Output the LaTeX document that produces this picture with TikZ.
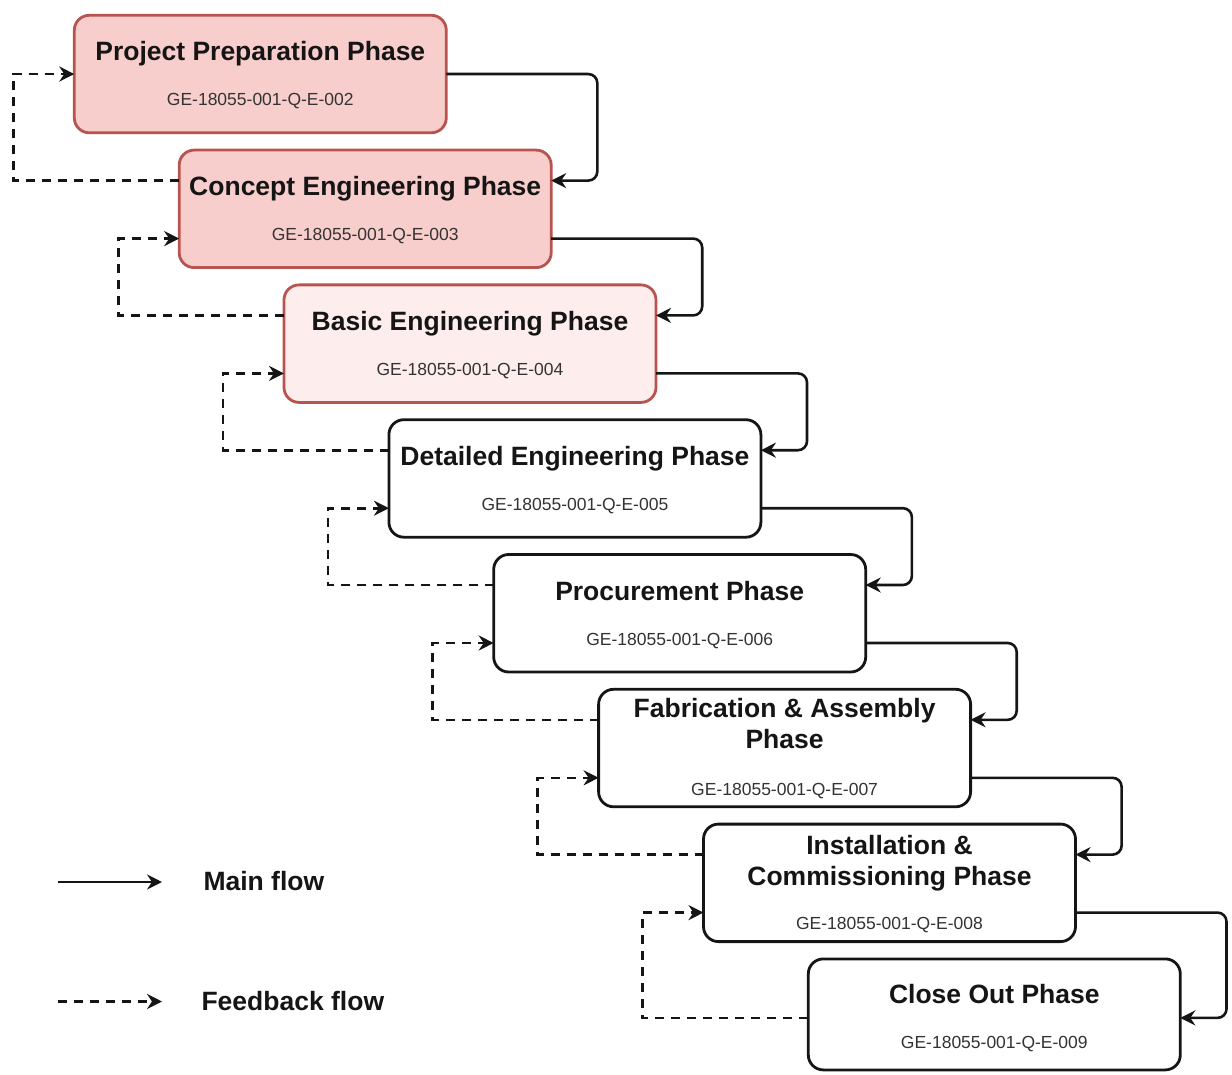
\documentclass[tikz,border=0pt]{standalone}
\usepackage{fontspec}
\setmainfont{Liberation Sans}
\usetikzlibrary{arrows.meta,calc}
\definecolor{phasered}{HTML}{F8CECC}
\definecolor{phasepale}{HTML}{FDEEED}
\definecolor{phaseedge}{HTML}{B85450}
\definecolor{codegray}{HTML}{333333}
\definecolor{inkblack}{HTML}{151515}
\begin{document}
\begin{tikzpicture}[x=1pt,y=-1pt,
  phase/.style={draw=inkblack, fill=white, line width=2.8pt, rounded corners=15pt,
    minimum width=372pt, minimum height=117.5pt, inner sep=0pt, outer sep=0pt, anchor=north west},
  redphase/.style={phase, draw=phaseedge, fill=phasered},
  palephase/.style={phase, draw=phaseedge, fill=phasepale},
  title/.style={font=\fontsize{26.5}{31}\selectfont\bfseries, text=inkblack, anchor=base, align=center},
  code/.style={font=\fontsize{17.5}{20}\selectfont, text=codegray, anchor=base},
  tip/.style={-{Stealth[length=15pt,width=15pt,inset=5pt]}},
  flow/.style={tip, draw=inkblack, line width=2.6pt, rounded corners=9pt},
  feedback/.style={tip, draw=inkblack, line width=2.6pt, dash pattern=on 9pt off 7pt},
  legendtext/.style={font=\fontsize{26.5}{31}\selectfont\bfseries, text=inkblack, anchor=base west}]
\useasboundingbox (0,0) rectangle (1232,1075);

% phase boxes, stepping down to the right
\node[redphase]  (p1) at (74.3,15.3)  {};
\node[redphase]  (p2) at (179.2,150.1) {};
\node[palephase] (p3) at (284.0,284.9) {};
\node[phase]     (p4) at (388.9,419.7) {};
\node[phase]     (p5) at (493.7,554.5) {};
\node[phase]     (p6) at (598.6,689.3) {};
\node[phase]     (p7) at (703.5,824.1) {};
\node[phase, minimum height=111pt] (p8) at (808.3,958.9) {};

% titles and document numbers (base anchor sits on the last title line)
\node[title] (t1) at ($(p1.north)+(0,45.5)$) {Project Preparation Phase};
\node[code]  (c1) at ($(p1.north)+(0,90.5)$) {GE-18055-001-Q-E-002};
\node[title] (t2) at ($(p2.north)+(0,45.5)$) {Concept Engineering Phase};
\node[code]  (c2) at ($(p2.north)+(0,90.5)$) {GE-18055-001-Q-E-003};
\node[title] (t3) at ($(p3.north)+(0,45.5)$) {Basic Engineering Phase};
\node[code]  (c3) at ($(p3.north)+(0,90.5)$) {GE-18055-001-Q-E-004};
\node[title] (t4) at ($(p4.north)+(0,45.5)$) {Detailed Engineering Phase};
\node[code]  (c4) at ($(p4.north)+(0,90.5)$) {GE-18055-001-Q-E-005};
\node[title] (t5) at ($(p5.north)+(0,45.5)$) {Procurement Phase};
\node[code]  (c5) at ($(p5.north)+(0,90.5)$) {GE-18055-001-Q-E-006};
\node[title] (t6) at ($(p6.north)+(0,59.5)$) {Fabrication \& Assembly\\Phase};
\node[code]  (c6) at ($(p6.north)+(0,105.7)$) {GE-18055-001-Q-E-007};
\node[title] (t7) at ($(p7.north)+(0,61)$) {Installation \&\\Commissioning Phase};
\node[code]  (c7) at ($(p7.north)+(0,105.7)$) {GE-18055-001-Q-E-008};
\node[title] (t8) at ($(p8.north)+(0,44.5)$) {Close Out Phase};
\node[code]  (c8) at ($(p8.north)+(0,89.5)$) {GE-18055-001-Q-E-009};

% main flow: right side of each phase down to the next one
\draw[flow] (p1.east) -- ++(151,0) |- ($(p2.north east)+(0,30.5)$);
\foreach \a/\b in {2/3,3/4,4/5,5/6,6/7}{
  \draw[flow] ($(p\a.north east)+(0,88.5)$) -- ++(151,0) |- ($(p\b.north east)+(0,30.5)$);
}
\draw[flow] ($(p7.north east)+(0,88.5)$) -- ++(151,0) |- ($(p8.north east)+(0,59)$);

% feedback flow: left side of each phase back to the previous one
\draw[feedback] ($(p2.north west)+(0,30.5)$) -| ($(p1.west)+(-61,0)$) -- (p1.west);
\foreach \a/\b in {3/2,4/3,5/4,6/5,7/6}{
  \draw[feedback] ($(p\a.north west)+(0,30.5)$) -| ($(p\b.north west)+(-61,88.5)$) -- ($(p\b.north west)+(0,88.5)$);
}
\draw[feedback] ($(p8.north west)+(0,59)$) -| ($(p7.north west)+(-61,88.5)$) -- ($(p7.north west)+(0,88.5)$);

% legend
\coordinate (m0) at (58,882);
\coordinate (m1) at (162,882);
\coordinate (f0) at (58,1001.5);
\coordinate (f1) at (162,1001.5);
\draw[flow] (m0) -- (m1);
\draw[feedback] (f0) -- (f1);
\node[legendtext] (mtext) at (200,890) {Main flow};
\node[legendtext] (ftext) at (198,1010) {Feedback flow};
\end{tikzpicture}
\end{document}
